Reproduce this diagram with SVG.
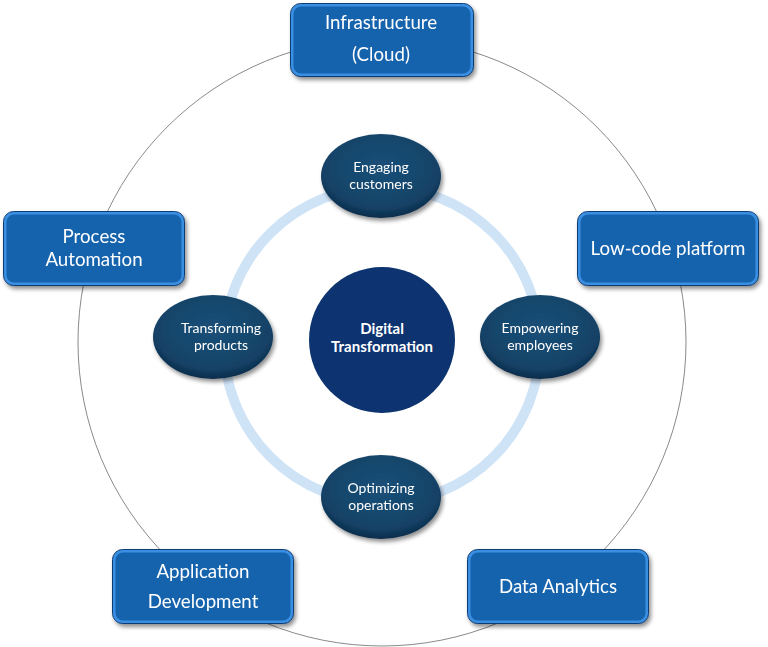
<svg xmlns="http://www.w3.org/2000/svg" width="768" height="647" viewBox="0 0 768 647">
<defs>
<radialGradient id="eg" cx="0.5" cy="0.4" r="0.6">
<stop offset="0" stop-color="#1b5079"/>
<stop offset="0.8" stop-color="#144267"/>
<stop offset="1" stop-color="#0c2c4a"/>
</radialGradient>
<filter id="sh" x="-10%" y="-10%" width="130%" height="130%">
<feGaussianBlur in="SourceAlpha" stdDeviation="2"/>
<feOffset dx="2" dy="3"/>
<feComponentTransfer><feFuncA type="linear" slope="0.45"/></feComponentTransfer>
<feMerge><feMergeNode/><feMergeNode in="SourceGraphic"/></feMerge>
</filter>
</defs>
<style>
.box{fill:#1763ad;stroke:#3a8fe3;stroke-width:3}
.boxo{fill:none;stroke:#0d3b73;stroke-width:1}
.bt{font-family:Lato,"Open Sans",sans-serif;font-size:18.7px;fill:#ffffff;text-anchor:middle}
.el{fill:url(#eg)}
.et{font-family:Lato,"Open Sans",sans-serif;font-size:14px;fill:#ffffff;text-anchor:middle}
.ct{font-family:Lato,"Open Sans",sans-serif;font-size:15px;font-weight:bold;fill:#ffffff;text-anchor:middle}
</style>
<rect width="768" height="647" fill="#ffffff"/>
<g id="connectors">
<circle cx="382" cy="342" r="304" fill="none" stroke="#8a8a8a" stroke-width="1"/>
<circle cx="382" cy="345" r="158" fill="none" stroke="#cfe3f7" stroke-width="10"/>
</g>
<g id="center">
<circle cx="382" cy="340" r="73" fill="#0d3470"/>
<text class="ct" x="382" y="334">Digital</text>
<text class="ct" x="382" y="352">Transformation</text>
</g>
<g id="engaging" filter="url(#sh)">
<ellipse class="el" cx="381" cy="176" rx="60" ry="42"/>
<text class="et" x="381" y="172">Engaging</text>
<text class="et" x="381" y="189">customers</text>
</g>
<g id="empowering" filter="url(#sh)">
<ellipse class="el" cx="540" cy="337" rx="60" ry="42"/>
<text class="et" x="540" y="333">Empowering</text>
<text class="et" x="540" y="350">employees</text>
</g>
<g id="transforming" filter="url(#sh)">
<ellipse class="el" cx="213" cy="337" rx="60" ry="42"/>
<text class="et" x="221" y="333">Transforming</text>
<text class="et" x="221" y="350">products</text>
</g>
<g id="optimizing" filter="url(#sh)">
<ellipse class="el" cx="381" cy="497" rx="60" ry="42"/>
<text class="et" x="381" y="493">Optimizing</text>
<text class="et" x="381" y="510">operations</text>
</g>
<g id="infrastructure" filter="url(#sh)">
<rect class="box" x="292" y="5" width="180" height="70" rx="9"/>
<rect class="boxo" x="290.5" y="3.5" width="183" height="73" rx="10"/>
<text class="bt" x="381" y="29">Infrastructure</text>
<text class="bt" x="381" y="61">(Cloud)</text>
</g>
<g id="lowcode" filter="url(#sh)">
<rect class="box" x="579" y="213" width="178" height="71" rx="9"/>
<rect class="boxo" x="577.5" y="211.5" width="181" height="74" rx="10"/>
<text class="bt" x="668" y="255">Low-code platform</text>
</g>
<g id="process" filter="url(#sh)">
<rect class="box" x="5" y="213" width="178" height="71" rx="9"/>
<rect class="boxo" x="3.5" y="211.5" width="181" height="74" rx="10"/>
<text class="bt" x="94" y="243">Process</text>
<text class="bt" x="94" y="266">Automation</text>
</g>
<g id="appdev" filter="url(#sh)">
<rect class="box" x="114" y="551" width="178" height="71" rx="9"/>
<rect class="boxo" x="112.5" y="549.5" width="181" height="74" rx="10"/>
<text class="bt" x="203" y="578">Application</text>
<text class="bt" x="203" y="608">Development</text>
</g>
<g id="analytics" filter="url(#sh)">
<rect class="box" x="469" y="551" width="178" height="71" rx="9"/>
<rect class="boxo" x="467.5" y="549.5" width="181" height="74" rx="10"/>
<text class="bt" x="558" y="593">Data Analytics</text>
</g>
</svg>
